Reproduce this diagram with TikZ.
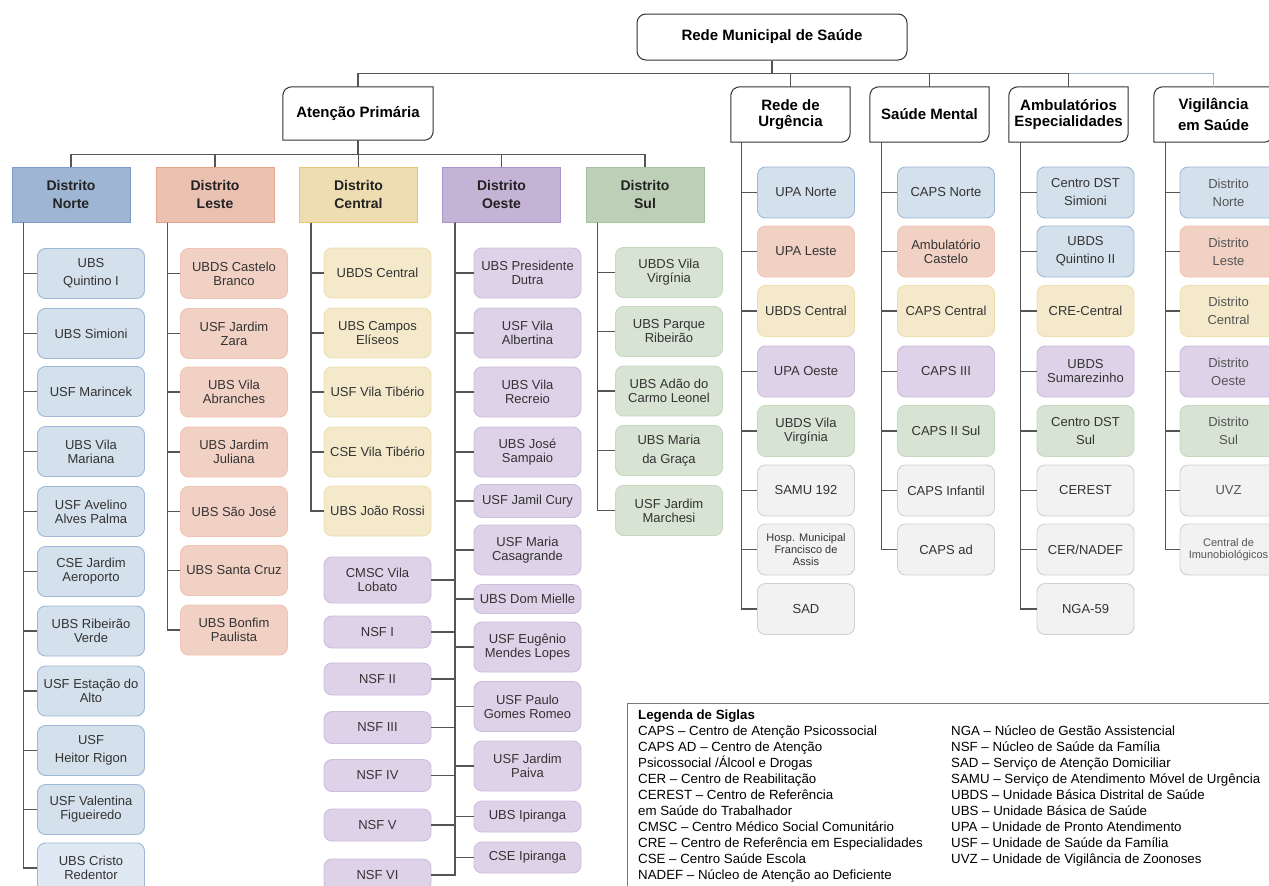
\documentclass[tikz,border=0pt]{standalone}
\usepackage{fontspec}
\setmainfont{Liberation Sans}
\usetikzlibrary{calc}
\definecolor{lc}{HTML}{555555}
\definecolor{busb}{HTML}{9DB7D4}
\definecolor{boxd}{HTML}{333333}
\definecolor{ktxt}{HTML}{333333}
\definecolor{vtxt}{HTML}{555555}
\definecolor{dtxt}{HTML}{222222}
\definecolor{legc}{HTML}{7A7A7A}
\definecolor{nB}{HTML}{9EB6D3}\definecolor{nBd}{HTML}{7C9DC7}
\definecolor{nS}{HTML}{EBC1B1}\definecolor{nSd}{HTML}{E6A38C}
\definecolor{nY}{HTML}{EEDDB0}\definecolor{nYd}{HTML}{E4C770}
\definecolor{nP}{HTML}{C5B3D6}\definecolor{nPd}{HTML}{AB93CB}
\definecolor{nG}{HTML}{BDCFB6}\definecolor{nGd}{HTML}{A8C29E}
\definecolor{kB}{HTML}{D4E0EC}\definecolor{kBd}{HTML}{9FB8D8}
\definecolor{kB2}{HTML}{DFE9F4}
\definecolor{kS}{HTML}{F2D1C5}\definecolor{kSd}{HTML}{F0C3B3}
\definecolor{kY}{HTML}{F4E9CB}\definecolor{kYd}{HTML}{EEDFAE}
\definecolor{kP}{HTML}{DED2E8}\definecolor{kPd}{HTML}{CDBCDD}
\definecolor{kG}{HTML}{D7E3D3}\definecolor{kGd}{HTML}{C6D8C0}
\definecolor{kW}{HTML}{F2F2F2}\definecolor{kWd}{HTML}{D0D0D0}
\newcommand\kidfnt{\fontsize{13}{14}\selectfont}
\newcommand\smlfnt{\fontsize{11}{12}\selectfont}
\newcommand\distfnt{\bfseries\fontsize{14}{18}\selectfont}
\newcommand\lonefnt{\bfseries\fontsize{15}{16}\selectfont}
\newcommand\legfnt{\fontsize{13.3}{16}\selectfont}
\newcommand\lonebox[1]{\draw[line width=1pt, draw=boxd] ($(#1.north west)+(0,11)$) .. controls ($(#1.north west)+(0,3)$) and ($(#1.north west)+(3,0)$) .. ($(#1.north west)+(11,0)$) -- (#1.north east) -- ($(#1.south east)+(0,-11)$) .. controls ($(#1.south east)+(0,-3)$) and ($(#1.south east)+(-3,0)$) .. ($(#1.south east)+(-11,0)$) -- (#1.south west) -- cycle;}
\tikzset{
 conn/.style={draw=lc, line width=1.3pt},
 rootbox/.style={draw=boxd, line width=1pt, rounded corners=9pt, minimum width=270pt, minimum height=46pt, inner sep=0, font=\lonefnt},
 lone/.style={minimum width=119pt, minimum height=55pt, inner sep=0, align=center, font=\lonefnt, text=black},
 dist/.style={line width=1pt, minimum width=118pt, minimum height=55pt, inner sep=0, align=center, font=\distfnt, text=dtxt},
 kid/.style={rounded corners=8pt, line width=0.9pt, minimum width=107pt, minimum height=50pt, inner sep=1pt, align=center, text=ktxt, font=\kidfnt},
 kb/.style={kid, fill=kB, draw=kBd},
 ks/.style={kid, fill=kS, draw=kSd},
 ky/.style={kid, fill=kY, draw=kYd},
 kp/.style={kid, fill=kP, draw=kPd},
 kg/.style={kid, fill=kG, draw=kGd},
 kw/.style={kid, fill=kW, draw=kWd},
 rk/.style={minimum width=97pt, minimum height=51pt},
 legtxt/.style={anchor=base west, inner sep=0, font=\legfnt, text=black}
}
\begin{document}
\begin{tikzpicture}[x=1pt,y=-1pt]
\useasboundingbox (0,0) rectangle (1269,886);
\clip (0,0) rectangle (1269,886);
\fill[white] (0,0) rectangle (1269,886);

% root and level 1
\node[rootbox] (root) at (772,37) {Rede Municipal de Saúde};
\node[lone, minimum width=150pt, minimum height=53pt] (ap) at (358,113.5) {Atenção Primária};
\node[lone] (ru) at (790.5,114.5) {Rede de\\Urgência};
\node[lone] (sm) at (929.5,114.5) {Saúde Mental};
\node[lone] (ae) at (1068.5,114.5) {Ambulatórios\\Especialidades};
\node[lone] (vs) at (1213.5,114.5) {Vigilância\\[5pt]em Saúde};
\foreach \b in {ap,ru,sm,ae,vs} {\lonebox{\b}}

% districts
\node[dist, fill=nB, draw=nBd] (dN) at (71,194.5) {Distrito\\Norte};
\node[dist, fill=nS, draw=nSd] (dL) at (215,194.5) {Distrito\\Leste};
\node[dist, fill=nY, draw=nYd] (dC) at (358.5,194.5) {Distrito\\Central};
\node[dist, fill=nP, draw=nPd] (dO) at (501.5,194.5) {Distrito\\Oeste};
\node[dist, fill=nG, draw=nGd] (dS) at (645,194.5) {Distrito\\Sul};

% Norte
\node[kb] (n1) at (91,273.5) {UBS\\[4pt]Quintino I};
\node[kb] (n2) at (91,333.5) {UBS Simioni};
\node[kb] (n3) at (91,391.5) {USF Marincek};
\node[kb] (n4) at (91,451.5) {UBS Vila\\Mariana};
\node[kb] (n5) at (91,511.5) {USF Avelino\\Alves Palma};
\node[kb] (n6) at (91,571.5) {CSE Jardim\\Aeroporto};
\node[kb] (n7) at (91,631) {UBS Ribeirão\\Verde};
\node[kb] (n8) at (91,691) {USF Estação do\\Alto};
\node[kb] (n9) at (91,750.5) {USF\\[4pt]Heitor Rigon};
\node[kb] (n10) at (91,809.5) {USF Valentina\\Figueiredo};
\node[kb, fill=kB2] (n11) at (91,868) {UBS Cristo\\Redentor};

% Leste
\node[ks] (l1) at (234,273.5) {UBDS Castelo\\Branco};
\node[ks] (l2) at (234,333.5) {USF Jardim\\Zara};
\node[ks] (l3) at (234,392) {UBS Vila\\Abranches};
\node[ks] (l4) at (234,452) {UBS Jardim\\Juliana};
\node[ks] (l5) at (234,511.5) {UBS São José};
\node[ks] (l6) at (234,570.5) {UBS Santa Cruz};
\node[ks] (l7) at (234,630) {UBS Bonfim\\Paulista};

% Central
\node[ky] (c1) at (377.5,273) {UBDS Central};
\node[ky] (c2) at (377.5,333) {UBS Campos\\Elíseos};
\node[ky] (c3) at (377.5,392) {USF Vila Tibério};
\node[ky] (c4) at (377.5,452) {CSE Vila Tibério};
\node[ky] (c5) at (377.5,511) {UBS João Rossi};

% Oeste right
\node[kp] (o1) at (527.5,273) {UBS Presidente\\Dutra};
\node[kp] (o2) at (527.5,333) {USF Vila\\Albertina};
\node[kp] (o3) at (527.5,392) {UBS Vila\\Recreio};
\node[kp] (o4) at (527.5,452) {UBS José\\Sampaio};
\node[kp, minimum height=33pt] (o5) at (527.5,501) {USF Jamil Cury};
\node[kp] (o6) at (527.5,550) {USF Maria\\Casagrande};
\node[kp, minimum height=29pt] (o7) at (527.5,599) {UBS Dom Mielle};
\node[kp] (o8) at (527.5,647) {USF Eugênio\\Mendes Lopes};
\node[kp] (o9) at (527.5,706.5) {USF Paulo\\Gomes Romeo};
\node[kp] (o10) at (527.5,766) {USF Jardim\\Paiva};
\node[kp, minimum height=31pt] (o11) at (527.5,816.5) {UBS Ipiranga};
\node[kp, minimum height=31pt] (o12) at (527.5,857.5) {CSE Ipiranga};

% Oeste left
\node[kp, minimum height=46pt] (w1) at (377.5,580) {CMSC Vila\\Lobato};
\node[kp, minimum height=32pt] (w2) at (377.5,632) {NSF I};
\node[kp, minimum height=32pt] (w3) at (377.5,679) {NSF II};
\node[kp, minimum height=32pt] (w4) at (377.5,727.5) {NSF III};
\node[kp, minimum height=32pt] (w5) at (377.5,775.5) {NSF IV};
\node[kp, minimum height=32pt] (w6) at (377.5,825) {NSF V};
\node[kp, minimum height=32pt] (w7) at (377.5,875) {NSF VI};

% Sul
\node[kg] (s1) at (669,272.5) {UBDS Vila\\Virgínia};
\node[kg] (s2) at (669,331.5) {UBS Parque\\Ribeirão};
\node[kg] (s3) at (669,391) {UBS Adão do\\Carmo Leonel};
\node[kg] (s4) at (669,450.5) {UBS Maria\\[5pt]da Graça};
\node[kg] (s5) at (669,510.5) {USF Jardim\\Marchesi};

% Rede de Urgencia
\node[kb, rk] (r1) at (806,192.5) {UPA Norte};
\node[ks, rk] (r2) at (806,251.5) {UPA Leste};
\node[ky, rk] (r3) at (806,311) {UBDS Central};
\node[kp, rk] (r4) at (806,371.5) {UPA Oeste};
\node[kg, rk] (r5) at (806,431) {UBDS Vila\\Virgínia};
\node[kw, rk] (r6) at (806,490.5) {SAMU 192};
\node[kw, rk, font=\smlfnt] (r7) at (806,549.5) {Hosp. Municipal\\Francisco de\\Assis};
\node[kw, rk] (r8) at (806,609) {SAD};

% Saude Mental
\node[kb, rk] (m1) at (946,192.5) {CAPS Norte};
\node[ks, rk] (m2) at (946,251.5) {Ambulatório\\Castelo};
\node[ky, rk] (m3) at (946,311) {CAPS Central};
\node[kp, rk] (m4) at (946,371.5) {CAPS III};
\node[kg, rk] (m5) at (946,431) {CAPS II Sul};
\node[kw, rk] (m6) at (946,490.5) {CAPS Infantil};
\node[kw, rk] (m7) at (946,549.5) {CAPS ad};

% Ambulatorios
\node[kb, rk] (a1) at (1085.5,192.5) {Centro DST\\[4pt]Simioni};
\node[kb, rk] (a2) at (1085.5,251.5) {UBDS\\[4pt]Quintino II};
\node[ky, rk] (a3) at (1085.5,311) {CRE-Central};
\node[kp, rk] (a4) at (1085.5,371.5) {UBDS\\Sumarezinho};
\node[kg, rk] (a5) at (1085.5,431) {Centro DST\\[4pt]Sul};
\node[kw, rk] (a6) at (1085.5,490.5) {CEREST};
\node[kw, rk] (a7) at (1085.5,549.5) {CER/NADEF};
\node[kw, rk] (a8) at (1085.5,609) {NGA-59};

% Vigilancia
\node[kb, rk, text=vtxt] (v1) at (1228.5,192.5) {Distrito\\[4pt]Norte};
\node[ks, rk, text=vtxt] (v2) at (1228.5,251.5) {Distrito\\[4pt]Leste};
\node[ky, rk, text=vtxt] (v3) at (1228.5,311) {Distrito\\[4pt]Central};
\node[kp, rk, text=vtxt] (v4) at (1228.5,371.5) {Distrito\\[4pt]Oeste};
\node[kg, rk, text=vtxt] (v5) at (1228.5,431) {Distrito\\[4pt]Sul};
\node[kw, rk, text=vtxt] (v6) at (1228.5,490.5) {UVZ};
\node[kw, rk, text=vtxt, font=\smlfnt] (v7) at (1228.5,549.5) {Central de\\Imunobiológicos};

% connectors: root
\draw[conn, draw=busb] (root.south) -- ++(0,13) -| (vs.north);
\foreach \c in {ap,ru,sm,ae} {\draw[conn] (root.south) -- ++(0,13) -| (\c.north);}
\foreach \c in {dN,dL,dC,dO,dS} {\draw[conn] (ap.south) -- ++(0,14) -| (\c.north);}
\foreach \c in {n1,n2,n3,n4,n5,n6,n7,n8,n9,n10,n11} {\draw[conn] ($(dN.south west)+(12,0)$) |- (\c.west);}
\foreach \c in {l1,l2,l3,l4,l5,l6,l7} {\draw[conn] ($(dL.south west)+(12,0)$) |- (\c.west);}
\foreach \c in {c1,c2,c3,c4,c5} {\draw[conn] ($(dC.south west)+(12,0)$) |- (\c.west);}
\foreach \c in {o1,o2,o3,o4,o5,o6,o7,o8,o9,o10,o11,o12} {\draw[conn] ($(dO.south west)+(13,0)$) |- (\c.west);}
\foreach \c in {w1,w2,w3,w4,w5,w6,w7} {\draw[conn] ($(dO.south west)+(13,0)$) |- (\c.east);}
\foreach \c in {s1,s2,s3,s4,s5} {\draw[conn] ($(dS.south west)+(12,0)$) |- (\c.west);}
\foreach \c in {r1,r2,r3,r4,r5,r6,r7,r8} {\draw[conn] ($(ru.south west)+(11,0)$) |- (\c.west);}
\foreach \c in {m1,m2,m3,m4,m5,m6,m7} {\draw[conn] ($(sm.south west)+(12,0)$) |- (\c.west);}
\foreach \c in {a1,a2,a3,a4,a5,a6,a7,a8} {\draw[conn] ($(ae.south west)+(12,0)$) |- (\c.west);}
\foreach \c in {v1,v2,v3,v4,v5,v6,v7} {\draw[conn] ($(vs.south west)+(12,0)$) |- (\c.west);}

% legend
\node[draw=legc, line width=1pt, minimum width=700pt, minimum height=220pt, anchor=north west, inner sep=0] (legbox) at (627,703) {};
\node[legtxt, font=\legfnt\bfseries] (lg0) at (638,719) {Legenda de Siglas};
\foreach \t [count=\i] in {CAPS – Centro de Atenção Psicossocial,
 CAPS AD – Centro de Atenção,
 Psicossocial /Álcool e Drogas,
 CER – Centro de Reabilitação,
 CEREST  – Centro de Referência,
 em Saúde do Trabalhador,
 CMSC – Centro Médico Social Comunitário,
 CRE – Centro de Referência em Especialidades,
 CSE – Centro Saúde Escola,
 NADEF – Núcleo de Atenção ao Deficiente}
 {\node[legtxt] (lgl\i) at (638,719+16*\i) {\t};}
\foreach \t [count=\i] in {NGA – Núcleo de Gestão Assistencial,
 NSF – Núcleo de Saúde da Família,
 SAD – Serviço de Atenção Domiciliar,
 SAMU – Serviço de Atendimento Móvel de Urgência,
 UBDS – Unidade Básica Distrital de Saúde,
 UBS – Unidade Básica de Saúde,
 UPA – Unidade de Pronto Atendimento,
 USF – Unidade de Saúde da Família,
 UVZ – Unidade de Vigilância de Zoonoses}
 {\node[legtxt] (lgr\i) at (951,719+16*\i) {\t};}
\end{tikzpicture}
\end{document}
